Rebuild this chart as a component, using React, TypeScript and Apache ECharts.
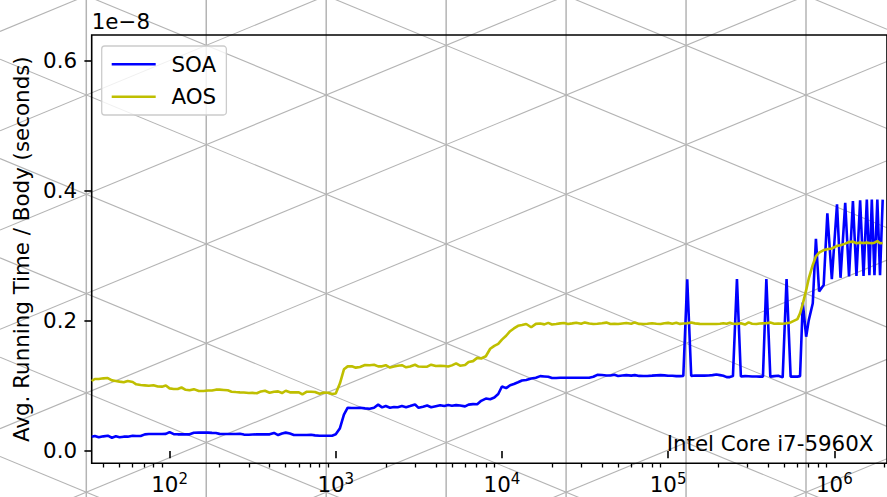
import React, { useEffect, useRef } from "react";
import * as echarts from "echarts";

const W = 887;
const H = 497;
const FONT = "DejaVu Sans";
const FS = 21.4;

// Problem sizes (N bodies)
const sizes = [
  34, 35.5, 37.5, 40, 42.5, 45, 47.5, 50, 53, 56, 60, 63, 67, 71, 75, 80, 85, 90, 95,
  100, 106, 112, 118, 125, 132, 140, 150, 160, 170, 180, 190, 200, 212, 224, 236, 250, 265, 280, 300,
  315, 335, 355, 375, 400, 425, 450, 475, 500, 530, 560, 600, 630, 670, 710, 750, 800, 850, 900, 950,
  1000, 1060, 1120, 1180, 1250, 1320, 1400, 1500, 1600, 1700, 1800, 1900, 2000, 2120, 2240, 2360, 2500, 2650, 2800, 3000,
  3150, 3350, 3550, 3750, 4000, 4250, 4500, 4750, 5000, 5300, 5600, 6000, 6300, 6700, 7100, 7500, 8000, 8500, 9000, 9500,
  10000, 10600, 11200, 11800, 12500, 13200, 14000, 15000, 16000, 17000, 18000, 19000, 20000, 21200, 22400, 23600, 25000, 26500, 28000, 30000,
  31500, 33500, 35500, 37500, 40000, 42500, 45000, 47500, 50000, 53000, 56000, 60000, 63000, 67000, 71000, 75000, 80000, 85000, 90000, 95000,
  100000, 106000, 112000, 118000, 123400, 130300, 137700, 145000, 155000, 165000, 175000, 185000, 195000, 205000, 215000, 225000, 235000, 245500, 259500, 274000,
  290000, 305000, 320000, 340000, 355000, 372000, 390000, 412000, 435000, 460000, 489000, 516000, 546000, 600000, 622000, 646000, 677000, 702000, 742000, 775000,
  810000, 863000, 908000, 966000,
  1038000, 1090000, 1163000, 1226000, 1294000, 1359000, 1430000, 1499000, 1569000, 1626000, 1681000, 1744000, 1815000, 1884000, 1955000,
];

// Avg. running time per body, in units of 1e-8 s
const soa = [
  0.022, 0.023, 0.021, 0.0225, 0.0235, 0.0204, 0.0225, 0.021, 0.022, 0.022, 0.0235, 0.023, 0.023, 0.0255, 0.0261, 0.0261, 0.0261, 0.0261, 0.0263,
  0.029, 0.0258, 0.0256, 0.0256, 0.0256, 0.0256, 0.028, 0.0282, 0.0282, 0.0282, 0.0278, 0.0276, 0.0263, 0.0261, 0.0261, 0.0261, 0.0261, 0.0266, 0.0252, 0.025,
  0.0253, 0.0256, 0.0256, 0.0256, 0.0256, 0.0278, 0.0245, 0.0268, 0.0282, 0.0268, 0.0246, 0.0246, 0.0246, 0.0246, 0.025, 0.024, 0.0235, 0.0235, 0.0235, 0.0235,
  0.0256, 0.035, 0.056, 0.0665, 0.066, 0.066, 0.0665, 0.0655, 0.065, 0.0665, 0.0712, 0.067, 0.0692, 0.0665, 0.0676, 0.0672, 0.069, 0.0672, 0.069, 0.0715,
  0.0663, 0.0678, 0.0698, 0.0672, 0.0688, 0.0703, 0.0691, 0.0705, 0.0695, 0.0705, 0.0698, 0.0685, 0.0712, 0.072, 0.0718, 0.077, 0.0805, 0.0795, 0.0822, 0.0875,
  0.099, 0.0965, 0.101, 0.1028, 0.1055, 0.1083, 0.109, 0.1112, 0.1125, 0.115, 0.1145, 0.114, 0.1121, 0.1121, 0.1124, 0.1126, 0.1126, 0.1126, 0.1126, 0.1126,
  0.1126, 0.1126, 0.114, 0.117, 0.1167, 0.116, 0.116, 0.117, 0.1153, 0.116, 0.1165, 0.1158, 0.1165, 0.1153, 0.1152, 0.1152, 0.1157, 0.1162, 0.1165, 0.1162,
  0.1155, 0.1155, 0.115, 0.115, 0.1152, 0.2637, 0.1152, 0.116, 0.1157, 0.1157, 0.116, 0.1165, 0.1175, 0.1165, 0.1155, 0.1135, 0.1135, 0.115, 0.264, 0.1145,
  0.115, 0.1148, 0.1145, 0.1145, 0.1142, 0.1142, 0.264, 0.1142, 0.115, 0.1155, 0.1131, 0.264, 0.1142, 0.1142, 0.115, 0.228, 0.1755, 0.201, 0.227, 0.326,
  0.245, 0.255, 0.365, 0.264,
  0.379, 0.266, 0.381, 0.268, 0.384, 0.269, 0.385, 0.269, 0.386, 0.27, 0.386, 0.27, 0.386, 0.27, 0.386,
];

const aos = [
  0.1075, 0.1106, 0.1106, 0.1116, 0.112, 0.1085, 0.1075, 0.1065, 0.1055, 0.1075, 0.106, 0.1024, 0.1013, 0.1008, 0.1003, 0.101, 0.099, 0.0988, 0.1005,
  0.0962, 0.0952, 0.0952, 0.0975, 0.094, 0.0932, 0.095, 0.0921, 0.0921, 0.093, 0.093, 0.0942, 0.0942, 0.0937, 0.0932, 0.0911, 0.0905, 0.0901, 0.0898, 0.0891,
  0.0893, 0.0886, 0.0915, 0.0925, 0.0895, 0.091, 0.0915, 0.089, 0.0925, 0.0901, 0.0901, 0.0901, 0.087, 0.0911, 0.0911, 0.0905, 0.0878, 0.0898, 0.0895, 0.0875,
  0.0884, 0.104, 0.1255, 0.13, 0.13, 0.128, 0.129, 0.132, 0.1318, 0.1325, 0.13, 0.13, 0.1318, 0.1282, 0.1298, 0.131, 0.1318, 0.1285, 0.1297, 0.1325,
  0.1297, 0.1295, 0.1295, 0.1326, 0.1305, 0.131, 0.1305, 0.1297, 0.1315, 0.1346, 0.131, 0.132, 0.1368, 0.138, 0.143, 0.142, 0.1455, 0.157, 0.1615, 0.1645,
  0.171, 0.177, 0.184, 0.1882, 0.1922, 0.1935, 0.195, 0.19, 0.1952, 0.1958, 0.1945, 0.1968, 0.1942, 0.195, 0.196, 0.1965, 0.195, 0.196, 0.197, 0.1955,
  0.1975, 0.1958, 0.195, 0.1955, 0.1962, 0.1972, 0.195, 0.1952, 0.195, 0.1958, 0.1965, 0.1955, 0.1975, 0.1952, 0.195, 0.1955, 0.1962, 0.1955, 0.195, 0.1962,
  0.1968, 0.1955, 0.197, 0.1952, 0.1958, 0.1962, 0.1972, 0.196, 0.1952, 0.195, 0.195, 0.195, 0.195, 0.1955, 0.1962, 0.1955, 0.1968, 0.1955, 0.1952, 0.1962,
  0.1942, 0.1975, 0.1955, 0.195, 0.1958, 0.196, 0.1962, 0.1972, 0.1955, 0.1958, 0.1955, 0.1962, 0.1975, 0.2025, 0.2115, 0.226, 0.247, 0.265, 0.2857, 0.299,
  0.3045, 0.3085, 0.3097, 0.311,
  0.315, 0.316, 0.3185, 0.321, 0.3215, 0.319, 0.32, 0.3195, 0.32, 0.3195, 0.319, 0.32, 0.3225, 0.319, 0.3195,
];

const seriesNames = ["SOA", "AOS"];
const seriesColors = ["#0000ff", "#bfbf00"];
const majorTicks = [100, 1000, 10000, 100000, 1000000];
const yTicks = [0, 0.2, 0.4, 0.6];
const exponentLabel = "1e\u22128";
const cpuLabel = "Intel Core i7-5960X";
const yAxisTitle = "Avg. Running Time / Body (seconds)";

const X_MIN = 34;
const X_MAX = 2.075e6;
const Y_MIN = -0.0189;
const Y_MAX = 0.6389;

const GRID = { left: 91.7, top: 35, right: 892, bottom: 463.3 };

function minorTickValues(): number[] {
  const out: number[] = [];
  for (let e = 1; e <= 6; e++) {
    for (let m = 2; m <= 9; m++) {
      const v = m * Math.pow(10, e);
      if (v >= X_MIN && v <= X_MAX) out.push(v);
    }
  }
  return out;
}

// decorative triangular lattice behind the figure
function latticeElements(): any[] {
  const x0 = 86.3, dx = 119.95, y0 = 95, dy = 99.3;
  const slope = dy / 2 / dx;
  const stroke = "#b4b4b4";
  const els: any[] = [];
  for (let k = -1; k <= 8; k++) {
    const x = x0 + k * dx;
    if (x < -2 || x > W + 2) continue;
    els.push({
      type: "line", silent: true, z: -10,
      shape: { x1: x, y1: 0, x2: x, y2: H },
      style: { stroke, lineWidth: 1.5 },
    });
  }
  for (let k = -8; k <= 10; k++) {
    const a0 = y0 - slope * x0 + k * dy;
    els.push({
      type: "line", silent: true, z: -10,
      shape: { x1: 0, y1: a0, x2: W, y2: a0 + slope * W },
      style: { stroke, lineWidth: 1.1 },
    });
    const b0 = y0 + slope * x0 + k * dy;
    els.push({
      type: "line", silent: true, z: -10,
      shape: { x1: 0, y1: b0, x2: W, y2: b0 - slope * W },
      style: { stroke, lineWidth: 1.1 },
    });
  }
  return els;
}

export default function App() {
  const ref = useRef<HTMLDivElement>(null);

  useEffect(() => {
    document.body.style.margin = "0";
    if (!ref.current) return;
    const chart = echarts.init(ref.current, undefined, { renderer: "svg", width: W, height: H });

    const valueSets = [soa, aos];
    const option: any = {
      animation: false,
      backgroundColor: "#ffffff",
      textStyle: { fontFamily: FONT },
      grid: {
        left: GRID.left,
        top: GRID.top,
        width: GRID.right - GRID.left,
        height: GRID.bottom - GRID.top,
        show: true,
        borderColor: "#000000",
        borderWidth: 1.6,
        backgroundColor: "transparent",
      },
      legend: {
        orient: "vertical",
        left: 101.7,
        top: 46,
        data: seriesNames,
        icon: "rect",
        itemWidth: 44,
        itemHeight: 2.6,
        itemGap: 11,
        padding: [7.6, 10.3, 7.6, 10],
        selectedMode: false,
        borderColor: "#cccccc",
        borderWidth: 1.3,
        borderRadius: 3,
        backgroundColor: "rgba(255,255,255,0.8)",
        textStyle: {
          fontFamily: FONT,
          fontSize: FS,
          color: "#000000",
          lineHeight: FS,
          padding: [0, 0, 0, 10.7],
        },
        z: 20,
      },
      xAxis: [
        {
          type: "log",
          logBase: 10,
          min: X_MIN,
          max: X_MAX,
          position: "bottom",
          axisLine: { show: false },
          splitLine: { show: false },
          axisTick: {
            show: true,
            customValues: majorTicks,
            length: 7.3,
            lineStyle: { color: "#000000", width: 1.6 },
          },
          axisLabel: {
            show: true,
            customValues: majorTicks,
            margin: 10.5,
            color: "#000000",
            formatter: (v: number) => `{b|10}{s|${Math.round(Math.log10(v))}}`,
            rich: {
              b: { fontFamily: FONT, fontSize: FS, lineHeight: FS, color: "#000", verticalAlign: "bottom" },
              s: { fontFamily: FONT, fontSize: 15, lineHeight: 15, color: "#000", verticalAlign: "bottom", padding: [0, 0, 8.5, 0] },
            },
          },
        },
        {
          type: "log",
          logBase: 10,
          min: X_MIN,
          max: X_MAX,
          position: "bottom",
          gridIndex: 0,
          axisLine: { show: false },
          splitLine: { show: false },
          axisLabel: { show: false },
          axisTick: {
            show: true,
            customValues: minorTickValues(),
            length: 4.2,
            lineStyle: { color: "#000000", width: 1.3 },
          },
        },
      ],
      yAxis: {
        type: "value",
        min: Y_MIN,
        max: Y_MAX,
        name: yAxisTitle,
        nameLocation: "middle",
        nameRotate: 90,
        nameGap: 59.3,
        nameTextStyle: { fontFamily: FONT, fontSize: FS, color: "#000000" },
        axisLine: { show: false },
        splitLine: { show: false },
        axisTick: {
          show: true,
          customValues: yTicks,
          length: 7.3,
          lineStyle: { color: "#000000", width: 1.6 },
        },
        axisLabel: {
          show: true,
          customValues: yTicks,
          margin: 14.6,
          fontFamily: FONT,
          fontSize: FS,
          color: "#000000",
          formatter: (v: number) => v.toFixed(1),
        },
      },
      graphic: [
        ...latticeElements(),
        {
          type: "text",
          x: 91.7,
          y: 21.6,
          z: 30,
          style: {
            text: exponentLabel,
            fontFamily: FONT,
            fontSize: FS,
            fill: "#000000",
            align: "left",
            verticalAlign: "middle",
            textAlign: "left",
            textVerticalAlign: "middle",
          },
        },
        {
          type: "text",
          x: 873.5,
          y: 443.6,
          z: 30,
          style: {
            text: cpuLabel,
            fontFamily: FONT,
            fontSize: FS,
            fill: "#000000",
            align: "right",
            verticalAlign: "middle",
            textAlign: "right",
            textVerticalAlign: "middle",
          },
        },
      ],
      series: seriesNames.map((name, si) => ({
        name,
        type: "line",
        xAxisIndex: 0,
        yAxisIndex: 0,
        data: sizes.map((n, i) => [n, valueSets[si][i]]),
        symbol: "none",
        showSymbol: false,
        clip: true,
        color: seriesColors[si],
        lineStyle: { color: seriesColors[si], width: 2.6 },
        z: 5,
      })),
    };

    chart.setOption(option);
    return () => chart.dispose();
  }, []);

  return (
    <div
      ref={ref}
      style={{ position: "fixed", left: 0, top: 0, width: W, height: H }}
    />
  );
}
